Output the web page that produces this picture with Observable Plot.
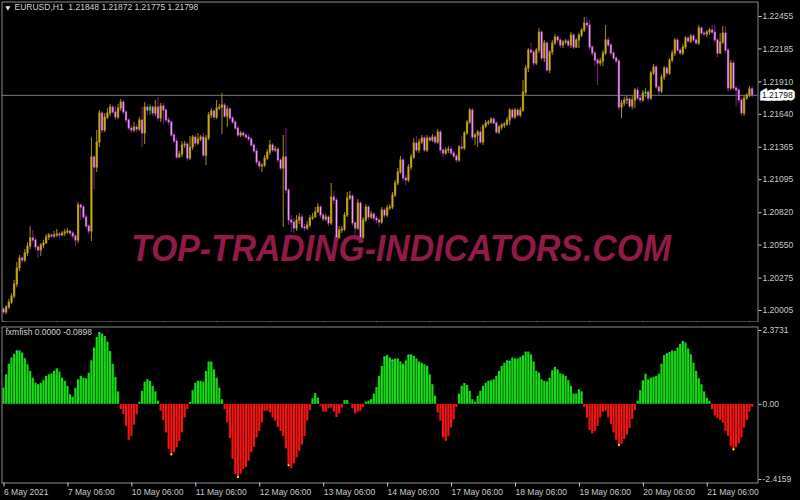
<!DOCTYPE html>
<html><head><meta charset="utf-8">
<script src="https://cdn.jsdelivr.net/npm/d3@7"></script>
<script src="https://cdn.jsdelivr.net/npm/@observablehq/plot@0.6"></script>
<style>
html,body{margin:0;padding:0;background:#000;}
#chart{position:relative;width:800px;height:500px;background:#000;overflow:hidden;}
#topPanel,#bottomPanel{position:absolute;left:0;}
#topPanel{top:0}
#bottomPanel{top:322px}
</style></head><body>
<div id="chart"><div id="topPanel"></div><div id="bottomPanel"></div></div>
<script>
// ---------- labels ----------
const symbolLabel = "EURUSD,H1";
const lastBarOHLC = [1.21848, 1.21872, 1.21775, 1.21798];
const indicatorName = "fxmfish";
const indicatorValues = ["0.0000", "-0.0898"];
const watermark = "TOP-TRADING-INDICATORS.COM";
const dateTickIndex = [0, 24, 48, 72, 96, 120, 144, 168, 192, 216, 240, 264];
const dateTickLabels = ["6 May 2021", "7 May 06:00", "10 May 06:00", "11 May 06:00", "12 May 06:00", "13 May 06:00", "14 May 06:00", "17 May 06:00", "18 May 06:00", "19 May 06:00", "20 May 06:00", "21 May 06:00"];
const priceTicks = [1.22455, 1.22185, 1.21910, 1.21640, 1.21365, 1.21095, 1.20820, 1.20550, 1.20275, 1.20005];
const fishTicks = [2.3731, 0, -2.4159];
const fishTickLabels = ["2.3731", "0.00", "-2.4159"];

// ---------- hourly EURUSD candles (6 May 06:00 .. 21 May 23:00) ----------
const open = [
1.20013,1.19988,1.20030,1.20071,1.20121,1.20221,1.20355,1.20438,1.20421,1.20480,
1.20538,1.20605,1.20588,1.20530,1.20505,1.20546,1.20563,1.20613,1.20630,1.20621,
1.20630,1.20638,1.20630,1.20646,1.20655,1.20663,1.20646,1.20621,1.20588,1.20880,
1.20863,1.20780,1.20705,1.20663,1.21280,1.21196,1.21405,1.21646,1.21505,1.21613,
1.21646,1.21696,1.21655,1.21613,1.21688,1.21738,1.21655,1.21588,1.21521,1.21505,
1.21530,1.21513,1.21588,1.21480,1.21696,1.21671,1.21696,1.21646,1.21696,1.21605,
1.21705,1.21671,1.21588,1.21571,1.21463,1.21413,1.21280,1.21305,1.21380,1.21388,
1.21271,1.21363,1.21446,1.21396,1.21430,1.21446,1.21296,1.21438,1.21630,1.21663,
1.21613,1.21688,1.21696,1.21713,1.21621,1.21680,1.21605,1.21571,1.21521,1.21463,
1.21480,1.21463,1.21446,1.21430,1.21380,1.21330,1.21238,1.21205,1.21213,1.21271,
1.21321,1.21380,1.21338,1.21346,1.21255,1.21188,1.21280,1.21005,1.20755,1.20738,
1.20688,1.20755,1.20780,1.20696,1.20688,1.20713,1.20771,1.20780,1.20821,1.20863,
1.20796,1.20763,1.20780,1.20730,1.20946,1.20921,1.20613,1.20671,1.20680,1.20796,
1.20938,1.20955,1.20730,1.20688,1.20896,1.20613,1.20755,1.20863,1.20780,1.20805,
1.20771,1.20755,1.20738,1.20838,1.20796,1.20855,1.20863,1.20963,1.21063,1.21155,
1.21255,1.21105,1.21088,1.21196,1.21280,1.21396,1.21338,1.21405,1.21438,1.21338,
1.21438,1.21421,1.21446,1.21405,1.21488,1.21338,1.21313,1.21338,1.21346,1.21313,
1.21288,1.21255,1.21363,1.21355,1.21480,1.21571,1.21671,1.21446,1.21463,1.21488,
1.21405,1.21538,1.21563,1.21571,1.21596,1.21563,1.21488,1.21530,1.21546,1.21555,
1.21588,1.21671,1.21613,1.21671,1.21630,1.21671,1.21821,1.22021,1.22171,1.22155,
1.22063,1.22171,1.22321,1.22105,1.22230,1.22005,1.22155,1.22230,1.22280,1.22255,
1.22213,1.22238,1.22246,1.22213,1.22296,1.22196,1.22255,1.22296,1.22338,1.22396,
1.22380,1.22196,1.22146,1.22088,1.22063,1.22080,1.22146,1.22255,1.22213,1.22146,
1.22105,1.22080,1.21696,1.21730,1.21755,1.21763,1.21705,1.21755,1.21838,1.21771,
1.21755,1.21813,1.21821,1.21771,1.21980,1.22030,1.21863,1.21830,1.21946,1.22021,
1.21980,1.22088,1.22146,1.22255,1.22171,1.22146,1.22196,1.22271,1.22246,1.22288,
1.22255,1.22230,1.22355,1.22313,1.22305,1.22321,1.22338,1.22321,1.22255,1.22146,
1.22238,1.22313,1.22171,1.21855,1.22063,1.21855,1.21838,1.21755,1.21646,1.21771,
1.21796,1.21848];
const high = [
1.20030,1.20046,1.20096,1.20146,1.20255,1.20405,1.20463,1.20455,1.20513,1.20571,
1.20705,1.20671,1.20605,1.20546,1.20563,1.20588,1.20638,1.20646,1.20646,1.20663,
1.20680,1.20655,1.20663,1.20680,1.20688,1.20671,1.20663,1.20638,1.20905,1.20896,
1.20880,1.20805,1.20721,1.21446,1.21296,1.21505,1.21671,1.21663,1.21646,1.21688,
1.21721,1.21713,1.21705,1.21721,1.21763,1.21755,1.21671,1.21605,1.21546,1.21571,
1.21555,1.21613,1.21696,1.21738,1.21721,1.21721,1.21713,1.21755,1.21780,1.21730,
1.21730,1.21688,1.21613,1.21588,1.21480,1.21438,1.21330,1.21413,1.21413,1.21405,
1.21455,1.21463,1.21471,1.21480,1.21463,1.21480,1.21463,1.21655,1.21688,1.21680,
1.21755,1.21721,1.21813,1.21730,1.21705,1.21696,1.21621,1.21588,1.21538,1.21496,
1.21496,1.21480,1.21471,1.21446,1.21396,1.21355,1.21255,1.21230,1.21296,1.21346,
1.21421,1.21396,1.21371,1.21363,1.21271,1.21463,1.21521,1.21021,1.20796,1.20771,
1.20796,1.20813,1.20805,1.20721,1.20746,1.20796,1.20813,1.20863,1.20896,1.20880,
1.20813,1.20805,1.20796,1.21063,1.20996,1.20938,1.20705,1.20705,1.20821,1.20988,
1.20996,1.20971,1.20746,1.20930,1.20913,1.20780,1.20888,1.20880,1.20830,1.20821,
1.20788,1.20771,1.20863,1.20855,1.20880,1.20888,1.20988,1.21088,1.21188,1.21288,
1.21271,1.21130,1.21221,1.21305,1.21438,1.21455,1.21430,1.21463,1.21455,1.21463,
1.21455,1.21471,1.21463,1.21513,1.21505,1.21355,1.21363,1.21371,1.21371,1.21330,
1.21305,1.21380,1.21455,1.21496,1.21588,1.21688,1.21688,1.21480,1.21505,1.21530,
1.21555,1.21588,1.21588,1.21613,1.21613,1.21580,1.21546,1.21563,1.21571,1.21613,
1.21688,1.21688,1.21688,1.21688,1.21696,1.21921,1.22046,1.22188,1.22230,1.22171,
1.22188,1.22355,1.22338,1.22255,1.22246,1.22171,1.22255,1.22305,1.22296,1.22271,
1.22255,1.22263,1.22263,1.22321,1.22313,1.22271,1.22313,1.22355,1.22446,1.22446,
1.22421,1.22213,1.22163,1.22105,1.22105,1.22171,1.22380,1.22280,1.22230,1.22163,
1.22121,1.22096,1.21755,1.21780,1.21788,1.21780,1.21788,1.21855,1.21863,1.21796,
1.21838,1.21855,1.21838,1.21996,1.22055,1.22046,1.21880,1.21971,1.22038,1.22038,
1.22105,1.22171,1.22271,1.22271,1.22188,1.22221,1.22288,1.22288,1.22305,1.22305,
1.22271,1.22380,1.22371,1.22330,1.22338,1.22355,1.22380,1.22380,1.22271,1.22313,
1.22371,1.22371,1.22188,1.22088,1.22088,1.21871,1.21855,1.21771,1.21796,1.21813,
1.21871,1.21872];
const low = [
1.19971,1.19971,1.20013,1.20055,1.20105,1.20196,1.20330,1.20396,1.20405,1.20455,
1.20513,1.20563,1.20505,1.20438,1.20455,1.20521,1.20580,1.20588,1.20605,1.20605,
1.20613,1.20605,1.20621,1.20621,1.20638,1.20621,1.20596,1.20538,1.20563,1.20755,
1.20763,1.20680,1.20638,1.20580,1.21013,1.21155,1.21363,1.21480,1.21488,1.21596,
1.21621,1.21638,1.21588,1.21596,1.21663,1.21638,1.21563,1.21505,1.21480,1.21488,
1.21488,1.21496,1.21363,1.21388,1.21630,1.21630,1.21621,1.21621,1.21580,1.21571,
1.21555,1.21571,1.21546,1.21446,1.21396,1.21263,1.21271,1.21280,1.21355,1.21246,
1.21255,1.21338,1.21371,1.21380,1.21413,1.21280,1.21213,1.21421,1.21605,1.21588,
1.21596,1.21671,1.21471,1.21605,1.21530,1.21588,1.21555,1.21505,1.21446,1.21446,
1.21446,1.21430,1.21413,1.21363,1.21313,1.21213,1.21180,1.21155,1.21196,1.21255,
1.21296,1.21321,1.21321,1.21230,1.21171,1.20696,1.20980,1.20713,1.20655,1.20646,
1.20663,1.20721,1.20680,1.20663,1.20671,1.20696,1.20755,1.20796,1.20838,1.20771,
1.20738,1.20746,1.20705,1.20713,1.20888,1.20588,1.20596,1.20646,1.20663,1.20780,
1.20921,1.20705,1.20605,1.20671,1.20588,1.20596,1.20738,1.20755,1.20763,1.20746,
1.20730,1.20696,1.20721,1.20771,1.20780,1.20838,1.20846,1.20946,1.21046,1.21138,
1.21080,1.21046,1.21071,1.21171,1.21263,1.21321,1.21313,1.21388,1.21321,1.21321,
1.21405,1.21405,1.21388,1.21388,1.21313,1.21280,1.21296,1.21313,1.21296,1.21271,
1.21230,1.21238,1.21338,1.21338,1.21463,1.21555,1.21421,1.21380,1.21363,1.21388,
1.21380,1.21521,1.21546,1.21555,1.21555,1.21471,1.21471,1.21505,1.21521,1.21538,
1.21546,1.21596,1.21596,1.21613,1.21613,1.21655,1.21796,1.21988,1.22138,1.22038,
1.22046,1.22146,1.22080,1.22071,1.21988,1.21980,1.22130,1.22213,1.22230,1.22188,
1.22188,1.22221,1.22196,1.22188,1.22180,1.22188,1.22188,1.22280,1.22321,1.22355,
1.22171,1.22121,1.22038,1.21880,1.22038,1.22038,1.22130,1.22196,1.22121,1.22088,
1.22063,1.21671,1.21605,1.21705,1.21721,1.21688,1.21680,1.21688,1.21755,1.21730,
1.21738,1.21780,1.21746,1.21755,1.21963,1.21846,1.21796,1.21813,1.21921,1.21955,
1.21963,1.22071,1.22121,1.22155,1.22130,1.22130,1.22180,1.22230,1.22230,1.22238,
1.22213,1.22213,1.22296,1.22288,1.22280,1.22296,1.22305,1.22230,1.22113,1.22138,
1.22221,1.22146,1.21821,1.21838,1.21838,1.21696,1.21730,1.21621,1.21621,1.21755,
1.21780,1.21775];
const close = [
1.19988,1.20030,1.20071,1.20121,1.20221,1.20355,1.20438,1.20421,1.20480,1.20538,
1.20605,1.20588,1.20530,1.20505,1.20546,1.20563,1.20613,1.20630,1.20621,1.20630,
1.20638,1.20630,1.20646,1.20655,1.20663,1.20646,1.20621,1.20588,1.20880,1.20863,
1.20780,1.20705,1.20663,1.21280,1.21196,1.21405,1.21646,1.21505,1.21613,1.21646,
1.21696,1.21655,1.21613,1.21688,1.21738,1.21655,1.21588,1.21521,1.21505,1.21530,
1.21513,1.21588,1.21480,1.21696,1.21671,1.21696,1.21646,1.21696,1.21605,1.21705,
1.21671,1.21588,1.21571,1.21463,1.21413,1.21280,1.21305,1.21380,1.21388,1.21271,
1.21363,1.21446,1.21396,1.21430,1.21446,1.21296,1.21438,1.21630,1.21663,1.21613,
1.21688,1.21696,1.21713,1.21621,1.21680,1.21605,1.21571,1.21521,1.21463,1.21480,
1.21463,1.21446,1.21430,1.21380,1.21330,1.21238,1.21205,1.21213,1.21271,1.21321,
1.21380,1.21338,1.21346,1.21255,1.21188,1.21280,1.21005,1.20755,1.20738,1.20688,
1.20755,1.20780,1.20696,1.20688,1.20713,1.20771,1.20780,1.20821,1.20863,1.20796,
1.20763,1.20780,1.20730,1.20946,1.20921,1.20613,1.20671,1.20680,1.20796,1.20938,
1.20955,1.20730,1.20688,1.20896,1.20613,1.20755,1.20863,1.20780,1.20805,1.20771,
1.20755,1.20738,1.20838,1.20796,1.20855,1.20863,1.20963,1.21063,1.21155,1.21255,
1.21105,1.21088,1.21196,1.21280,1.21396,1.21338,1.21405,1.21438,1.21338,1.21438,
1.21421,1.21446,1.21405,1.21488,1.21338,1.21313,1.21338,1.21346,1.21313,1.21288,
1.21255,1.21363,1.21355,1.21480,1.21571,1.21671,1.21446,1.21463,1.21488,1.21405,
1.21538,1.21563,1.21571,1.21596,1.21563,1.21488,1.21530,1.21546,1.21555,1.21588,
1.21671,1.21613,1.21671,1.21630,1.21671,1.21821,1.22021,1.22171,1.22155,1.22063,
1.22171,1.22321,1.22105,1.22230,1.22005,1.22155,1.22230,1.22280,1.22255,1.22213,
1.22238,1.22246,1.22213,1.22296,1.22196,1.22255,1.22296,1.22338,1.22396,1.22380,
1.22196,1.22146,1.22088,1.22063,1.22080,1.22146,1.22255,1.22213,1.22146,1.22105,
1.22080,1.21696,1.21730,1.21755,1.21763,1.21705,1.21755,1.21838,1.21771,1.21755,
1.21813,1.21821,1.21771,1.21980,1.22030,1.21863,1.21830,1.21946,1.22021,1.21980,
1.22088,1.22146,1.22255,1.22171,1.22146,1.22196,1.22271,1.22246,1.22288,1.22255,
1.22230,1.22355,1.22313,1.22305,1.22321,1.22338,1.22321,1.22255,1.22146,1.22238,
1.22313,1.22171,1.21855,1.22063,1.21855,1.21838,1.21755,1.21646,1.21771,1.21796,
1.21848,1.21798];
const flatCandles = [55, 241];

// ---------- fxmfish histogram ----------
const fish = [
0.52,0.95,1.29,1.49,1.61,1.70,1.72,1.65,1.47,1.27,
1.06,0.84,0.68,0.63,0.68,0.76,0.90,0.95,0.98,1.06,
1.14,1.04,0.84,0.74,0.58,0.31,0.22,0.52,0.79,0.90,
0.84,0.82,1.00,1.40,1.81,2.15,2.29,2.26,2.18,2.00,
1.70,1.29,0.87,0.40,-0.17,-0.33,-0.71,-1.16,-1.03,-0.67,
-0.33,0.06,0.42,0.71,0.79,0.74,0.58,0.40,0.10,-0.22,
-0.52,-0.92,-1.45,-1.61,-1.56,-1.40,-1.19,-0.92,-0.44,-0.17,
0.06,0.44,0.68,0.74,0.74,0.71,1.06,1.36,1.36,1.11,
0.84,0.52,0.15,-0.17,-0.60,-1.10,-1.77,-2.25,-2.34,-2.25,
-2.09,-2.04,-1.83,-1.56,-1.38,-1.08,-0.87,
-0.60,-0.22,-0.22,-0.28,-0.44,-0.54,-0.74,-0.87,-1.03,-1.43,
-1.96,-2.06,-1.91,-1.72,-1.51,-1.31,-1.03,-0.54,-0.20,0.18,
0.35,0.20,-0.06,-0.25,-0.25,-0.14,-0.12,-0.25,-0.42,-0.31,
-0.12,0.12,0.12,0.01,-0.14,-0.31,-0.25,-0.22,-0.10,0.07,
0.10,0.15,0.33,0.54,0.90,1.22,1.51,1.57,1.49,1.41,
1.46,1.46,1.36,1.29,1.40,1.57,1.59,1.54,1.46,1.36,
1.32,1.27,1.22,0.95,0.63,0.26,-0.28,-0.54,-1.08,-1.19,
-1.03,-0.76,-0.50,-0.10,0.33,0.58,0.67,0.61,0.42,0.15,
0.07,0.26,0.42,0.58,0.68,0.74,0.76,0.79,0.90,1.06,
1.22,1.32,1.40,1.37,1.49,1.46,1.46,1.51,1.54,1.68,
1.68,
1.59,1.36,1.06,1.00,0.79,0.74,0.72,0.84,1.08,1.19,
1.11,0.98,0.95,0.90,0.76,0.58,0.33,0.33,0.47,0.40,
-0.10,-0.44,-0.84,-0.95,-0.87,-0.71,-0.44,-0.25,-0.22,-0.44,
-0.65,-0.92,-1.16,-1.31,-1.29,-1.13,-0.99,-0.78,-0.49,-0.20,
0.10,0.44,0.76,0.97,0.79,0.84,0.87,0.90,0.97,1.29,
1.57,1.61,1.67,1.72,1.70,1.81,1.93,2.00,1.97,1.78,
1.59,1.32,1.06,0.82,0.63,0.40,0.20,0.10,-0.17,-0.38,
-0.46,-0.52,-0.60,-0.87,-1.03,-1.35,-1.45,-1.40,-1.27,-1.08,
-0.76,-0.52,-0.25,-0.09];
const fishPeakMarks = [5, 36, 143, 146, 152, 190, 195, 249, 255];
const fishTroughMarks = [63, 88, 107, 231, 274];

// ---------- build ----------
const FONT = "'Liberation Sans', Arial, sans-serif";
const bars = close.map((c, i) => ({
  i, o: open[i], h: high[i], l: low[i], c,
  kind: flatCandles.includes(i) ? "flat" : (c >= open[i] ? "up" : "down")
}));
const wickColor = {up: "#a88f10", down: "#7a1f82", flat: "#20a820"};
const bodyColor = {up: "#9c850e", down: "#a444b2", flat: "#22b822"};
const innerColor = {up: "#d6b61e", down: "#f4b2f6", flat: "#44e044"};
const fishData = fish.map((v, i) => ({i, v}));
const xScale = {domain: [0, 281], range: [3, 751.6], label: null};
const lastClose = close[close.length - 1];
const lastCloseLabel = d3.format(".5f")(lastClose);
const titleText = symbolLabel + "\u00a0\u00a0" + lastBarOHLC.map(d3.format(".5f")).join(" ");

const topChart = Plot.plot({
  width: 800, height: 322,
  marginLeft: 1.5, marginRight: 42.5, marginTop: 1.5, marginBottom: 0.5,
  style: {background: "#000", color: "#c8c8c8", fontFamily: FONT, fontSize: "8.5px", overflow: "visible"},
  x: xScale,
  y: {domain: [1.20005, 1.22455], range: [310, 16], label: null},
  marks: [
    Plot.text([watermark], {frameAnchor: "middle", dx: 21, dy: 87, fontSize: 37, fontWeight: "bold",
      fontStyle: "italic", fill: "#921a47", fontFamily: FONT}),
    Plot.ruleY([lastClose], {stroke: "#7a7a7a", strokeWidth: 1}),
    Plot.ruleX(bars, {x: "i", y1: "l", y2: "h", stroke: d => wickColor[d.kind], strokeWidth: 1}),
    Plot.ruleX(bars, {x: "i", y1: d => Math.max(d.o, d.c), y2: d => Math.min(d.o, d.c),
      insetTop: -0.6, insetBottom: -0.6, stroke: d => bodyColor[d.kind], strokeWidth: 2.3}),
    Plot.ruleX(bars, {x: "i", y1: d => Math.max(d.o, d.c), y2: d => Math.min(d.o, d.c),
      stroke: d => innerColor[d.kind], strokeWidth: 0.9}),
    Plot.frame({stroke: "#8a8a8a"}),
    Plot.axisY({anchor: "right", ticks: priceTicks, tickFormat: d3.format(".5f"), tickSize: 3,
      tickPadding: 1.5, fontSize: 8.5, color: "#c8c8c8", label: null}),
    Plot.text([lastClose], {y: d => d, frameAnchor: "right", dx: 4, textAnchor: "start",
      text: () => lastCloseLabel, fill: "#111111", stroke: "#ffffff", strokeWidth: 5,
      strokeLinejoin: "miter", fontSize: 8.5}),
    Plot.text(["\u25bc"], {frameAnchor: "top-left", dx: 3.5, dy: 4, fontSize: 6, fill: "#e8e8e8",
      fontFamily: "'DejaVu Sans', sans-serif", lineAnchor: "top"}),
    Plot.text([titleText], {frameAnchor: "top-left", dx: 12.5, dy: 2, fontSize: 8.5, fill: "#d0d0d0",
      textAnchor: "start", lineAnchor: "top"})
  ]
});

const bottomChart = Plot.plot({
  width: 800, height: 178,
  marginLeft: 1.5, marginRight: 42.5, marginTop: 4.5, marginBottom: 17.5,
  style: {background: "#000", color: "#c8c8c8", fontFamily: FONT, fontSize: "8.5px", overflow: "visible"},
  x: xScale,
  y: {domain: [-2.4159, 2.3731], range: [157, 8], label: null},
  marks: [
    Plot.ruleX(fishData, {x: "i", y1: 0, y2: "v", stroke: d => d.v >= 0 ? "#12dc12" : "#f21414", strokeWidth: 2.2}),
    Plot.dot(fishPeakMarks, {x: d => d, y: d => fish[d], r: 1.1, fill: "#22ccff", stroke: null}),
    Plot.dot(fishTroughMarks, {x: d => d, y: d => fish[d], r: 1.1, fill: "#ffee00", stroke: null}),
    Plot.frame({stroke: "#8a8a8a"}),
    Plot.axisY({anchor: "right", ticks: fishTicks, tickFormat: d => fishTickLabels[fishTicks.indexOf(d)],
      tickSize: 3, tickPadding: 1.5, fontSize: 8.5, color: "#c8c8c8", label: null}),
    Plot.axisX({ticks: dateTickIndex, tickFormat: d => dateTickLabels[dateTickIndex.indexOf(d)],
      tickSize: 4, tickPadding: 2, textAnchor: "start", dx: 0.5, fontSize: 8.5, color: "#c8c8c8", label: null}),
    Plot.text([indicatorName + " " + indicatorValues.join(" ")], {frameAnchor: "top-left", dx: 3.5, dy: 1.5,
      fontSize: 8.5, fill: "#d0d0d0", textAnchor: "start", lineAnchor: "top"})
  ]
});

document.getElementById("topPanel").appendChild(topChart);
document.getElementById("bottomPanel").appendChild(bottomChart);

// watermark: fit to its width in the reference
d3.select(topChart).selectAll("text").filter(function () { return this.textContent === watermark; })
  .attr("textLength", 540).attr("lengthAdjust", "spacingAndGlyphs");
</script>
</body></html>
